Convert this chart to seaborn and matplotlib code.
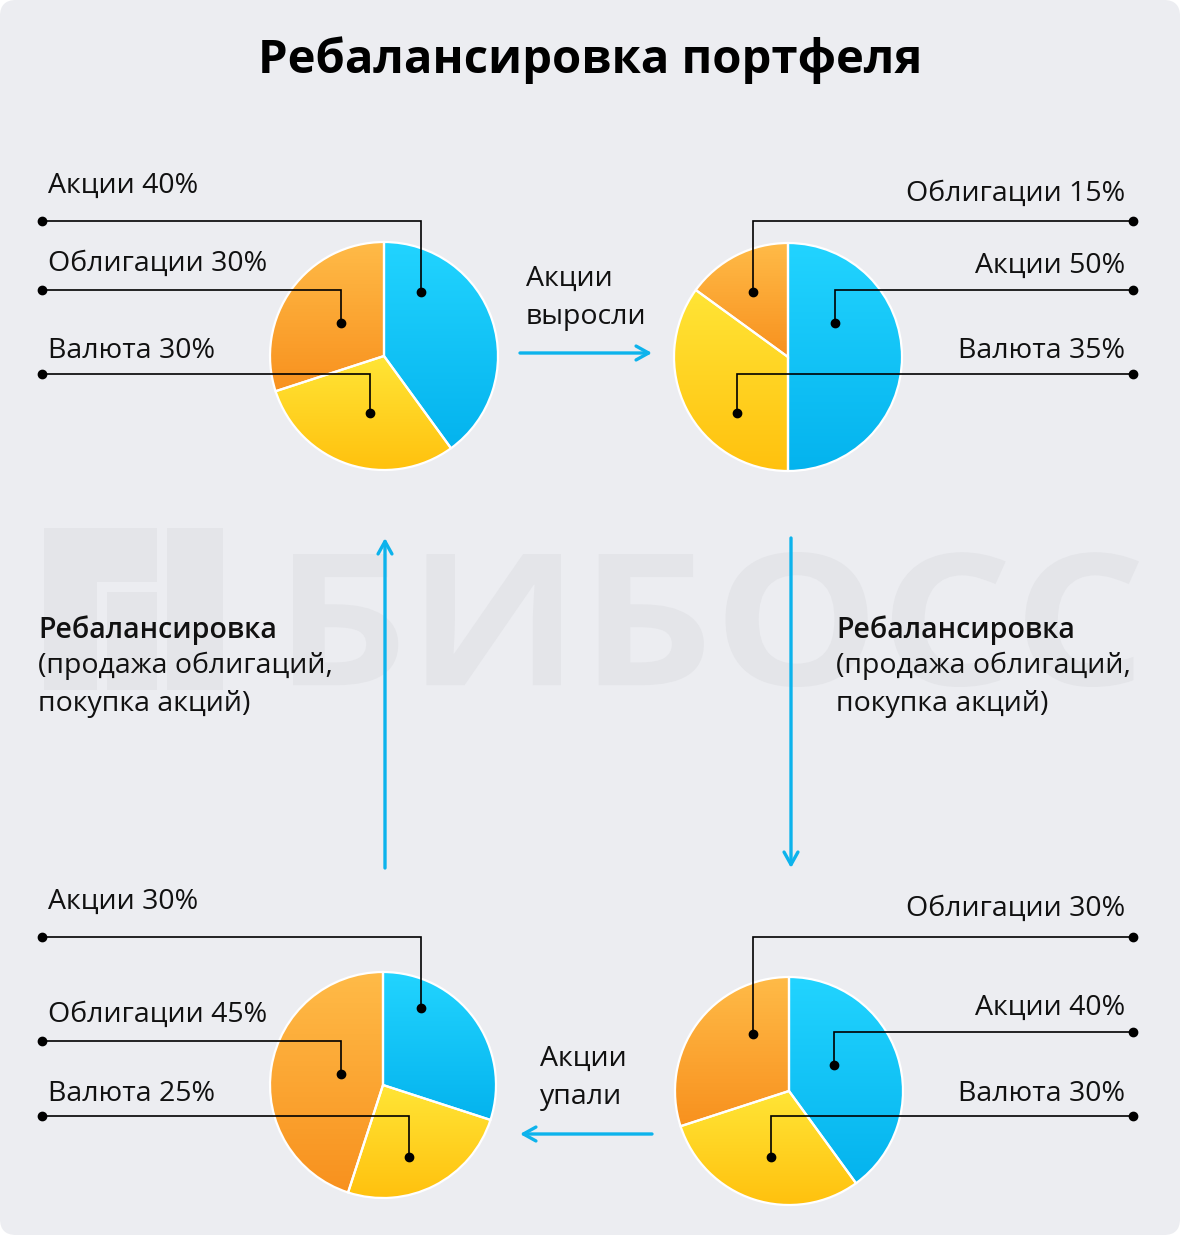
import numpy as np
import pandas as pd
import matplotlib
matplotlib.use("Agg")
import matplotlib.pyplot as plt
from matplotlib.patches import FancyBboxPatch, PathPatch, Rectangle
from matplotlib.textpath import TextPath
from matplotlib.font_manager import FontProperties
from matplotlib.transforms import Affine2D
import seaborn as sns

# данные: доли портфеля на каждом этапе (порядок по часовой стрелке от 12 часов)
categories = ["Акции", "Валюта", "Облигации"]
start_vals = [40, 30, 30]      # исходный портфель
grown_vals = [50, 35, 15]      # акции выросли
rebal_vals = [40, 30, 30]      # после ребалансировки
fallen_vals = [30, 25, 45]     # акции упали

title = "Ребалансировка портфеля"
arrow_texts = ["Акции\nвыросли", "Акции\nупали"]
rebal_head = "Ребалансировка"
rebal_body = "(продажа облигаций,\nпокупка акций)"

# градиенты (низ, верх)
grad_colors = {
    "Акции": ("#04B3EE", "#22D4FF"),
    "Валюта": ("#FFC10E", "#FFE536"),
    "Облигации": ("#F8911E", "#FFBB48"),
}
BG = "#ECEDF1"
BLUE = "#0DB3EC"
FONT = "Open Sans"
FS = 20.5

sns.set_style("white")
plt.rcParams["font.family"] = [FONT, "DejaVu Sans"]

W, H = 1180, 1235
fig = plt.figure(figsize=(W / 100, H / 100), dpi=100)
fig.patch.set_facecolor("white")

# фон
ax_bg = fig.add_axes([0, 0, 1, 1])
ax_bg.set_xlim(0, W)
ax_bg.set_ylim(H, 0)
ax_bg.axis("off")
ax_bg.add_patch(FancyBboxPatch((0, 0), W, H, boxstyle="round,pad=0,rounding_size=16",
                               facecolor=BG, edgecolor="none"))

# водяной знак
wm = "#E4E5E9"
ax_bg.add_patch(Rectangle((44, 528), 113, 162, color=wm, lw=0))
ax_bg.add_patch(Rectangle((167, 528), 56, 162, color=wm, lw=0))
ax_bg.add_patch(Rectangle((97, 582), 10, 108, color=BG, lw=0))
ax_bg.add_patch(Rectangle((97, 582), 60, 10, color=BG, lw=0))
tp = TextPath((0, 0), "БИБОСС", size=100, prop=FontProperties(family=FONT, weight="bold"))
ext = tp.get_extents()
tr = (Affine2D().translate(-ext.x0, -ext.y0)
      .scale((1139 - 293) / ext.width, -(687 - 552) / ext.height)
      .translate(293, 687))
ax_bg.add_patch(PathPatch(tr.transform_path(tp), facecolor=wm, edgecolor="none"))


def draw_pie(cx, cy, r, values):
    box = 1.25 * r
    ax = fig.add_axes([(cx - box) / W, 1 - (cy + box) / H, 2 * box / W, 2 * box / H])
    df = pd.DataFrame({"cat": categories, "val": values})
    wedges, _ = ax.pie(df["val"], startangle=90, counterclock=False,
                       wedgeprops=dict(linewidth=1.6, edgecolor="white"))
    for w, cat in zip(wedges, df["cat"]):
        lo, hi = grad_colors[cat]
        cmap = sns.blend_palette([lo, hi], as_cmap=True)
        bb = w.get_path().get_extents()
        im = ax.imshow(np.linspace(0, 1, 256).reshape(-1, 1), cmap=cmap, origin="lower",
                       extent=[bb.x0, bb.x1, bb.y0, bb.y1], aspect="auto", zorder=1)
        im.set_clip_path(w)
        w.set_facecolor("none")
        w.set_zorder(2)
    ax.set_xlim(-1.25, 1.25)
    ax.set_ylim(-1.25, 1.25)
    ax.set_aspect("equal")
    ax.axis("off")


draw_pie(384, 356, 114, start_vals)
draw_pie(788, 357, 114, grown_vals)
draw_pie(789, 1091, 114, rebal_vals)
draw_pie(383, 1085, 113, fallen_vals)

# верхний слой: подписи, выноски, стрелки
ax = fig.add_axes([0, 0, 1, 1])
ax.set_xlim(0, W)
ax.set_ylim(H, 0)
ax.patch.set_alpha(0)
ax.axis("off")

ax.text(590, 60, title, ha="center", va="center", fontsize=34, fontweight="bold", color="#000000")

# выноски: (текст, y текста, y линии, x излома, y точки)
left_top = [("Акции 40%", 186, 221, 421, 292), ("Облигации 30%", 264, 290, 341, 323),
            ("Валюта 30%", 351, 374, 370, 413)]
right_top = [("Облигации 15%", 194, 221, 753, 292), ("Акции 50%", 266, 290, 835, 323),
             ("Валюта 35%", 351, 374, 737, 413)]
left_bot = [("Акции 30%", 902, 937, 421, 1008), ("Облигации 45%", 1015, 1041, 341, 1074),
            ("Валюта 25%", 1094, 1116, 409, 1157)]
right_bot = [("Облигации 30%", 909, 937, 753, 1034), ("Акции 40%", 1008, 1032, 834, 1065),
             ("Валюта 30%", 1094, 1116, 771, 1157)]


def leaders(items, side):
    x_end = 42 if side == "left" else 1133
    x_txt = 48 if side == "left" else 1125
    for txt, ty, ly, ex, dy in items:
        ax.text(x_txt, ty, txt, ha=side, va="center", fontsize=FS, color="#111111")
        ax.plot([x_end, ex, ex], [ly, ly, dy], color="black", lw=1.2, solid_joinstyle="miter")
        ax.plot([x_end, ex], [ly, dy], ls="none", marker="o", ms=6, color="black")


leaders(left_top, "left")
leaders(right_top, "right")
leaders(left_bot, "left")
leaders(right_bot, "right")

arrow_kw = dict(arrowstyle="->,head_length=0.9,head_width=0.5", color=BLUE, lw=2.4,
                shrinkA=0, shrinkB=0)
ax.annotate("", xy=(652, 353), xytext=(520, 353), arrowprops=arrow_kw)
ax.annotate("", xy=(520, 1134), xytext=(652, 1134), arrowprops=arrow_kw)
ax.annotate("", xy=(385, 538), xytext=(385, 868), arrowprops=arrow_kw)
ax.annotate("", xy=(791, 868), xytext=(791, 538), arrowprops=arrow_kw)

ax.text(526, 298, arrow_texts[0], ha="left", va="center", fontsize=FS, linespacing=1.45, color="#111111")
ax.text(540, 1078, arrow_texts[1], ha="left", va="center", fontsize=FS, linespacing=1.45, color="#111111")

for x0 in (38, 836):
    ax.text(x0, 630, rebal_head, ha="left", va="center", fontsize=FS, fontweight="semibold", color="#111111")
    ax.text(x0, 685, rebal_body, ha="left", va="center", fontsize=FS, linespacing=1.45, color="#111111")

fig.savefig("out.png", dpi=100, facecolor=fig.get_facecolor())
